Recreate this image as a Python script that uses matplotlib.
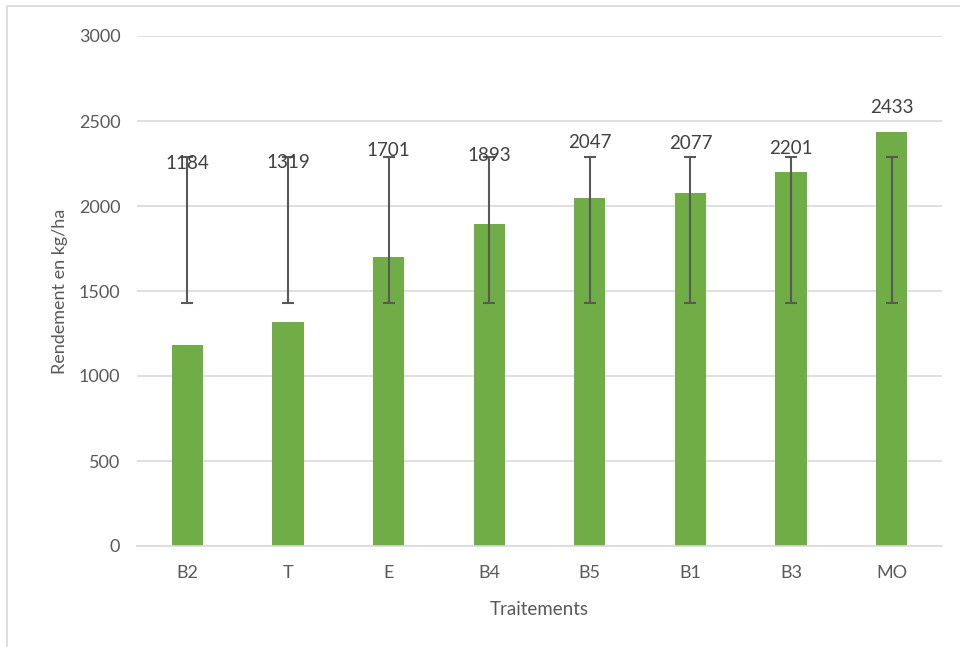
import matplotlib.pyplot as plt
import numpy as np

traitements = ["B2", "T", "E", "B4", "B5", "B1", "B3", "MO"]
rendement = [1184, 1319, 1701, 1893, 2047, 2077, 2201, 2433]
err_bas = [1431] * 8
err_haut = [2290] * 8
label_y = [2251, 2257, 2329, 2300, 2372, 2369, 2339, 2580]

plt.rcParams['font.family'] = ['Lato', 'DejaVu Sans']
gris = '#595959'

fig = plt.figure(figsize=(9.6, 6.47), dpi=100)
ax = fig.add_axes([137/960, 1 - 546/647, 805/960, 510/647])

x = np.arange(len(traitements))
ax.bar(x, rendement, width=0.31, color='#70AD47', zorder=2)

# barres d'erreur (les memes bornes pour toutes les colonnes)
ax.vlines(x, err_bas, err_haut, color=gris, lw=1.5, zorder=3)
ax.hlines(err_bas, x - 0.06, x + 0.06, color=gris, lw=1.5, zorder=3)
ax.hlines(err_haut, x - 0.06, x + 0.06, color=gris, lw=1.5, zorder=3)

for xi, v, ly in zip(x, rendement, label_y):
    ax.text(xi, ly, str(v), ha='center', va='center', fontsize=13.5, color='#404040', zorder=4)

ax.set_xlim(-0.5, len(traitements) - 0.5)
ax.set_ylim(0, 3000)
ax.set_yticks(range(0, 3001, 500))
ax.set_xticks(x)
ax.set_xticklabels(traitements)
ax.tick_params(length=0, labelsize=13, colors=gris)
ax.tick_params(axis='x', pad=14)
ax.tick_params(axis='y', pad=12)
ax.grid(axis='y', color='#d9d9d9', lw=1.2, zorder=0)
for s in ['top', 'right', 'left']:
    ax.spines[s].set_visible(False)
ax.spines['bottom'].set_color('#d9d9d9')
ax.spines['bottom'].set_linewidth(1.2)

ax.set_ylabel('Rendement en kg/ha', fontsize=13, color=gris, labelpad=8)
ax.set_xlabel('Traitements', fontsize=13.5, color=gris, labelpad=14)

# cadre du graphique
fig.patches.append(plt.Rectangle((7/960, -0.01), 1.0, 1 - 6/647 + 0.01, transform=fig.transFigure,
                                 fill=False, edgecolor='#d9d9d9', lw=1.2))

fig.savefig('out.png', dpi=100)
